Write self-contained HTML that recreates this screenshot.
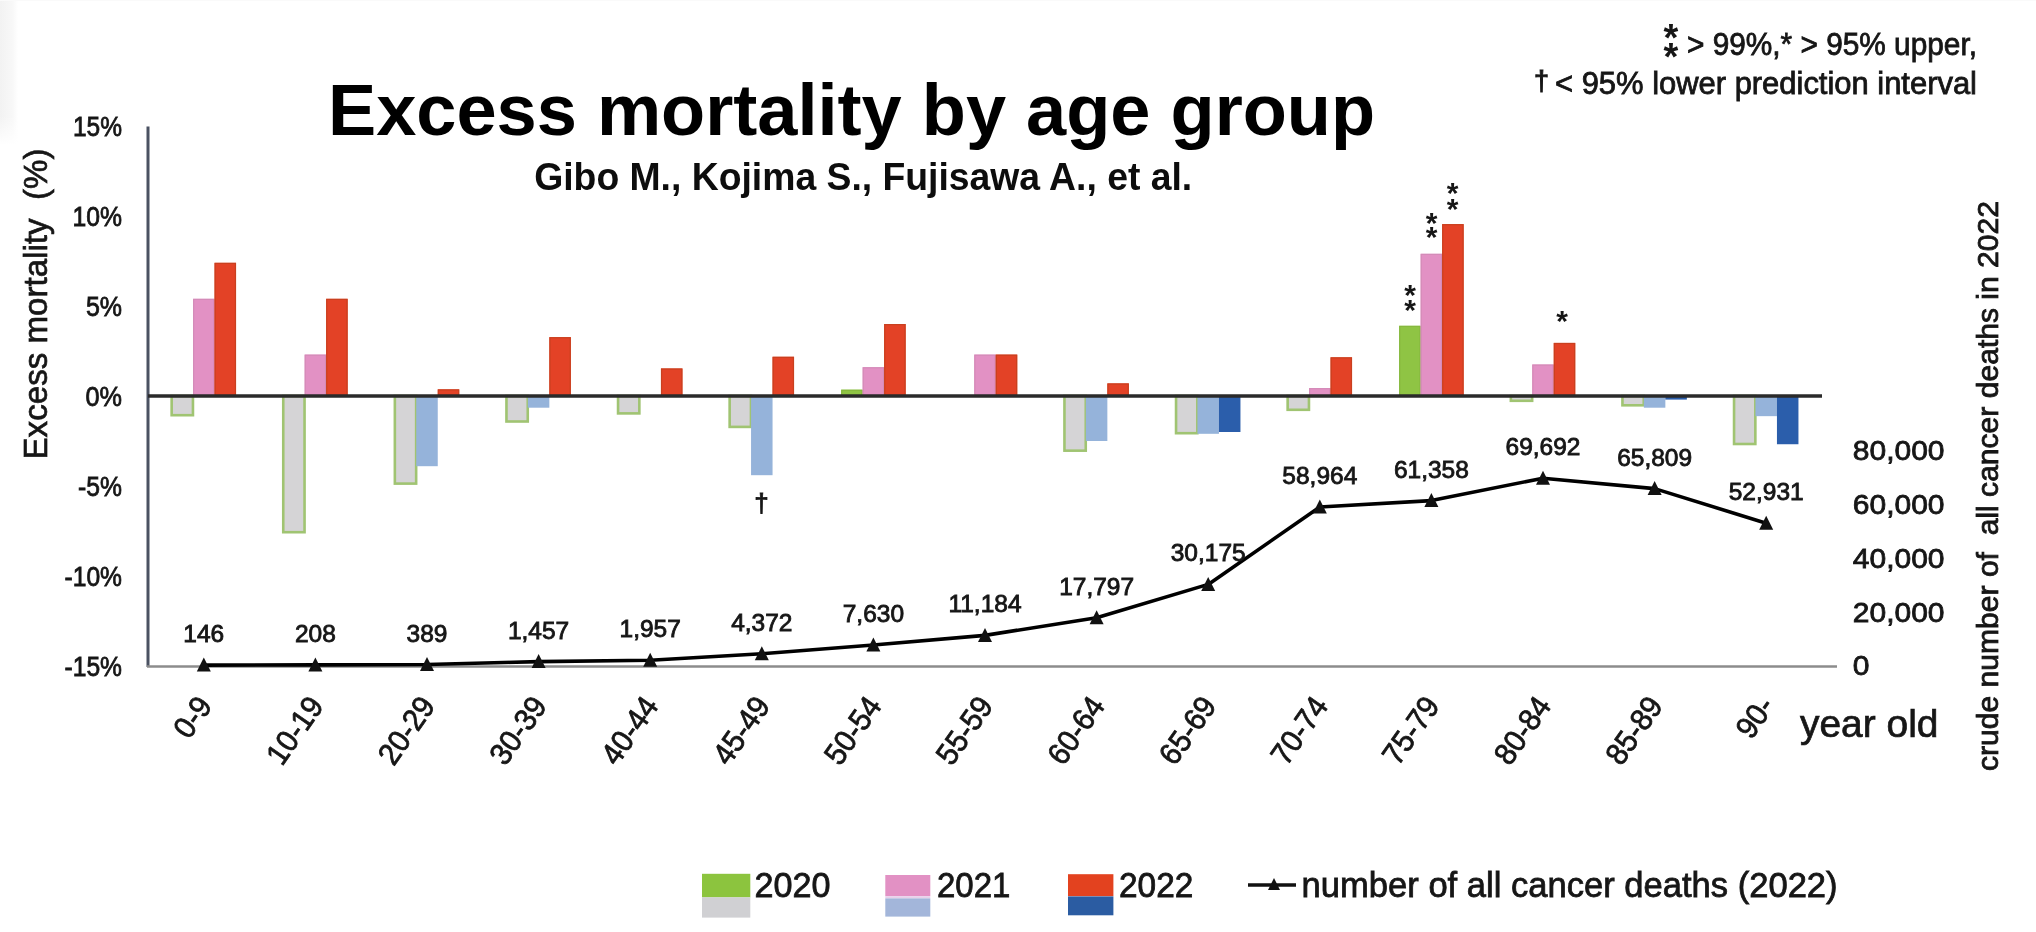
<!DOCTYPE html><html><head><meta charset="utf-8"><title>Excess mortality by age group</title>
<style>html,body{margin:0;padding:0;background:#fff;overflow:hidden}svg{display:block;filter:blur(0.7px)}</style></head><body>
<svg width="2036" height="932" viewBox="0 0 2036 932" font-family="'Liberation Sans', sans-serif" fill="#161616">
<rect width="2036" height="932" fill="#fff"/>
<defs><linearGradient id="lg" x1="0" x2="1" y1="0" y2="0"><stop offset="0" stop-color="#f2f2f2"/><stop offset="0.7" stop-color="#f8f8f8"/><stop offset="1" stop-color="#ffffff"/></linearGradient><linearGradient id="lv" x1="0" x2="0" y1="0" y2="1"><stop offset="0" stop-color="#fff" stop-opacity="0"/><stop offset="0.8" stop-color="#fff" stop-opacity="0"/><stop offset="1" stop-color="#fff" stop-opacity="1"/></linearGradient></defs>
<rect x="0" y="0" width="18" height="145" fill="url(#lg)"/><rect x="0" y="0" width="18" height="145" fill="url(#lv)"/>
<rect x="0" y="0" width="2036" height="1" fill="#fafafa"/>
<text x="328.0" y="134.5" font-size="73" font-weight="bold" textLength="1047.0" lengthAdjust="spacingAndGlyphs" fill="#000">Excess mortality by age group</text>
<text x="534.2" y="190.0" font-size="38.5" font-weight="bold" textLength="658.0" lengthAdjust="spacingAndGlyphs" fill="#0d0d0d">Gibo M., Kojima S., Fujisawa A., et al.</text>
<text x="1671.0" y="51.2" font-size="38" font-weight="bold" text-anchor="middle">*</text>
<text x="1671.0" y="70.4" font-size="38" font-weight="bold" text-anchor="middle">*</text>
<text x="1687.0" y="54.5" font-size="31" textLength="290.0" lengthAdjust="spacingAndGlyphs" stroke="#161616" stroke-width="0.8">&gt; 99%,* &gt; 95% upper,</text>
<text x="1534.0" y="90.0" font-size="27" stroke="#161616" stroke-width="1.0">†</text>
<text x="1555.0" y="94.2" font-size="31" textLength="422.0" lengthAdjust="spacingAndGlyphs" stroke="#161616" stroke-width="0.8">&lt; 95% lower prediction interval</text>
<line x1="148" y1="126.5" x2="148" y2="667" stroke="#4b5262" stroke-width="3"/>
<line x1="147" y1="666.5" x2="1837" y2="666.5" stroke="#8c8c8c" stroke-width="2.5"/>
<rect x="171.65" y="396.00" width="21.30" height="19.20" fill="#d5d4d6" stroke="#a0c472" stroke-width="2.6"/>
<rect x="193.05" y="298.80" width="21.50" height="97.20" fill="#e291c4"/>
<rect x="193.65" y="299.40" width="20.30" height="96.60" fill="none" stroke="#d48bb8" stroke-width="1.2"/>
<rect x="214.55" y="262.80" width="21.50" height="133.20" fill="#e34226"/>
<rect x="215.15" y="263.40" width="20.30" height="132.60" fill="none" stroke="#c9401f" stroke-width="1.2"/>
<rect x="283.25" y="396.00" width="21.30" height="136.20" fill="#d5d4d6" stroke="#a0c472" stroke-width="2.6"/>
<rect x="304.65" y="354.60" width="21.50" height="41.40" fill="#e291c4"/>
<rect x="305.25" y="355.20" width="20.30" height="40.80" fill="none" stroke="#d48bb8" stroke-width="1.2"/>
<rect x="326.15" y="298.80" width="21.50" height="97.20" fill="#e34226"/>
<rect x="326.75" y="299.40" width="20.30" height="96.60" fill="none" stroke="#c9401f" stroke-width="1.2"/>
<rect x="394.85" y="396.00" width="21.30" height="87.60" fill="#d5d4d6" stroke="#a0c472" stroke-width="2.6"/>
<rect x="416.25" y="396.00" width="21.50" height="70.20" fill="#95b3da"/>
<rect x="437.75" y="389.34" width="21.50" height="6.66" fill="#e34226"/>
<rect x="438.35" y="389.94" width="20.30" height="6.06" fill="none" stroke="#c9401f" stroke-width="1.2"/>
<rect x="506.45" y="396.00" width="21.30" height="25.50" fill="#d5d4d6" stroke="#a0c472" stroke-width="2.6"/>
<rect x="527.85" y="396.00" width="21.50" height="11.70" fill="#95b3da"/>
<rect x="549.35" y="337.14" width="21.50" height="58.86" fill="#e34226"/>
<rect x="549.95" y="337.74" width="20.30" height="58.26" fill="none" stroke="#c9401f" stroke-width="1.2"/>
<rect x="618.05" y="396.00" width="21.30" height="17.40" fill="#d5d4d6" stroke="#a0c472" stroke-width="2.6"/>
<rect x="660.95" y="368.46" width="21.50" height="27.54" fill="#e34226"/>
<rect x="661.55" y="369.06" width="20.30" height="26.94" fill="none" stroke="#c9401f" stroke-width="1.2"/>
<rect x="729.65" y="396.00" width="21.30" height="30.90" fill="#d5d4d6" stroke="#a0c472" stroke-width="2.6"/>
<rect x="751.05" y="396.00" width="21.50" height="79.20" fill="#95b3da"/>
<rect x="772.55" y="356.76" width="21.50" height="39.24" fill="#e34226"/>
<rect x="773.15" y="357.36" width="20.30" height="38.64" fill="none" stroke="#c9401f" stroke-width="1.2"/>
<rect x="841.15" y="389.70" width="21.50" height="6.30" fill="#8fc444"/>
<rect x="841.75" y="390.30" width="20.30" height="5.70" fill="none" stroke="#86b83e" stroke-width="1.2"/>
<rect x="862.65" y="367.20" width="21.50" height="28.80" fill="#e291c4"/>
<rect x="863.25" y="367.80" width="20.30" height="28.20" fill="none" stroke="#d48bb8" stroke-width="1.2"/>
<rect x="884.15" y="324.00" width="21.50" height="72.00" fill="#e34226"/>
<rect x="884.75" y="324.60" width="20.30" height="71.40" fill="none" stroke="#c9401f" stroke-width="1.2"/>
<rect x="974.25" y="354.60" width="21.50" height="41.40" fill="#e291c4"/>
<rect x="974.85" y="355.20" width="20.30" height="40.80" fill="none" stroke="#d48bb8" stroke-width="1.2"/>
<rect x="995.75" y="354.60" width="21.50" height="41.40" fill="#e34226"/>
<rect x="996.35" y="355.20" width="20.30" height="40.80" fill="none" stroke="#c9401f" stroke-width="1.2"/>
<rect x="1064.45" y="396.00" width="21.30" height="54.66" fill="#d5d4d6" stroke="#a0c472" stroke-width="2.6"/>
<rect x="1085.85" y="396.00" width="21.50" height="45.00" fill="#95b3da"/>
<rect x="1107.35" y="383.40" width="21.50" height="12.60" fill="#e34226"/>
<rect x="1107.95" y="384.00" width="20.30" height="12.00" fill="none" stroke="#c9401f" stroke-width="1.2"/>
<rect x="1176.05" y="396.00" width="21.30" height="37.20" fill="#d5d4d6" stroke="#a0c472" stroke-width="2.6"/>
<rect x="1197.45" y="396.00" width="21.50" height="37.80" fill="#95b3da"/>
<rect x="1218.95" y="396.00" width="21.50" height="36.00" fill="#2b5eab"/>
<rect x="1287.65" y="396.00" width="21.30" height="13.80" fill="#d5d4d6" stroke="#a0c472" stroke-width="2.6"/>
<rect x="1309.05" y="388.08" width="21.50" height="7.92" fill="#e291c4"/>
<rect x="1309.65" y="388.68" width="20.30" height="7.32" fill="none" stroke="#d48bb8" stroke-width="1.2"/>
<rect x="1330.55" y="357.30" width="21.50" height="38.70" fill="#e34226"/>
<rect x="1331.15" y="357.90" width="20.30" height="38.10" fill="none" stroke="#c9401f" stroke-width="1.2"/>
<rect x="1399.15" y="325.80" width="21.50" height="70.20" fill="#8fc444"/>
<rect x="1399.75" y="326.40" width="20.30" height="69.60" fill="none" stroke="#86b83e" stroke-width="1.2"/>
<rect x="1420.65" y="253.80" width="21.50" height="142.20" fill="#e291c4"/>
<rect x="1421.25" y="254.40" width="20.30" height="141.60" fill="none" stroke="#d48bb8" stroke-width="1.2"/>
<rect x="1442.15" y="224.10" width="21.50" height="171.90" fill="#e34226"/>
<rect x="1442.75" y="224.70" width="20.30" height="171.30" fill="none" stroke="#c9401f" stroke-width="1.2"/>
<rect x="1510.85" y="396.00" width="21.30" height="4.80" fill="#d5d4d6" stroke="#a0c472" stroke-width="2.6"/>
<rect x="1532.25" y="364.50" width="21.50" height="31.50" fill="#e291c4"/>
<rect x="1532.85" y="365.10" width="20.30" height="30.90" fill="none" stroke="#d48bb8" stroke-width="1.2"/>
<rect x="1553.75" y="342.90" width="21.50" height="53.10" fill="#e34226"/>
<rect x="1554.35" y="343.50" width="20.30" height="52.50" fill="none" stroke="#c9401f" stroke-width="1.2"/>
<rect x="1622.45" y="396.00" width="21.30" height="9.30" fill="#d5d4d6" stroke="#a0c472" stroke-width="2.6"/>
<rect x="1643.85" y="396.00" width="21.50" height="11.70" fill="#95b3da"/>
<rect x="1665.35" y="396.00" width="21.50" height="3.60" fill="#2b5eab"/>
<rect x="1734.05" y="396.00" width="21.30" height="48.00" fill="#d5d4d6" stroke="#a0c472" stroke-width="2.6"/>
<rect x="1755.45" y="396.00" width="21.50" height="20.16" fill="#95b3da"/>
<rect x="1776.95" y="396.00" width="21.50" height="48.24" fill="#2b5eab"/>
<line x1="148" y1="396.0" x2="1822" y2="396.0" stroke="#2a2a2a" stroke-width="3.5"/>
<text x="122.0" y="135.8" font-size="27.5" text-anchor="end" textLength="49.0" lengthAdjust="spacingAndGlyphs" stroke="#161616" stroke-width="0.8">15%</text>
<text x="122.0" y="225.8" font-size="27.5" text-anchor="end" textLength="49.5" lengthAdjust="spacingAndGlyphs" stroke="#161616" stroke-width="0.8">10%</text>
<text x="122.0" y="315.8" font-size="27.5" text-anchor="end" textLength="36.1" lengthAdjust="spacingAndGlyphs" stroke="#161616" stroke-width="0.8">5%</text>
<text x="122.0" y="405.8" font-size="27.5" text-anchor="end" textLength="36.5" lengthAdjust="spacingAndGlyphs" stroke="#161616" stroke-width="0.8">0%</text>
<text x="122.0" y="495.8" font-size="27.5" text-anchor="end" textLength="43.9" lengthAdjust="spacingAndGlyphs" stroke="#161616" stroke-width="0.8">-5%</text>
<text x="122.0" y="585.8" font-size="27.5" text-anchor="end" textLength="57.5" lengthAdjust="spacingAndGlyphs" stroke="#161616" stroke-width="0.8">-10%</text>
<text x="122.0" y="675.8" font-size="27.5" text-anchor="end" textLength="57.5" lengthAdjust="spacingAndGlyphs" stroke="#161616" stroke-width="0.8">-15%</text>
<text x="1852.8" y="675.2" font-size="27.5" textLength="16.7" lengthAdjust="spacingAndGlyphs" stroke="#161616" stroke-width="0.8">0</text>
<text x="1852.8" y="621.5" font-size="27.5" textLength="91.7" lengthAdjust="spacingAndGlyphs" stroke="#161616" stroke-width="0.8">20,000</text>
<text x="1852.8" y="567.8" font-size="27.5" textLength="91.7" lengthAdjust="spacingAndGlyphs" stroke="#161616" stroke-width="0.8">40,000</text>
<text x="1852.8" y="514.0" font-size="27.5" textLength="91.7" lengthAdjust="spacingAndGlyphs" stroke="#161616" stroke-width="0.8">60,000</text>
<text x="1852.8" y="460.2" font-size="27.5" textLength="91.7" lengthAdjust="spacingAndGlyphs" stroke="#161616" stroke-width="0.8">80,000</text>
<polyline points="203.8,665.1 315.4,664.9 427.0,664.5 538.6,661.6 650.2,660.2 761.8,653.8 873.4,645.0 985.0,635.4 1096.6,617.7 1208.2,584.4 1319.8,507.0 1431.4,500.6 1543.0,478.2 1654.6,488.6 1766.2,523.2" fill="none" stroke="#000" stroke-width="3.6" stroke-linejoin="round"/>
<path d="M203.8 657.6L210.8 671.6L196.8 671.6Z" fill="#111"/>
<path d="M315.4 657.4L322.4 671.4L308.4 671.4Z" fill="#111"/>
<path d="M427.0 657.0L434.0 671.0L420.0 671.0Z" fill="#111"/>
<path d="M538.6 654.1L545.6 668.1L531.6 668.1Z" fill="#111"/>
<path d="M650.2 652.7L657.2 666.7L643.2 666.7Z" fill="#111"/>
<path d="M761.8 646.3L768.8 660.3L754.8 660.3Z" fill="#111"/>
<path d="M873.4 637.5L880.4 651.5L866.4 651.5Z" fill="#111"/>
<path d="M985.0 627.9L992.0 641.9L978.0 641.9Z" fill="#111"/>
<path d="M1096.6 610.2L1103.6 624.2L1089.6 624.2Z" fill="#111"/>
<path d="M1208.2 576.9L1215.2 590.9L1201.2 590.9Z" fill="#111"/>
<path d="M1319.8 499.5L1326.8 513.5L1312.8 513.5Z" fill="#111"/>
<path d="M1431.4 493.1L1438.4 507.1L1424.4 507.1Z" fill="#111"/>
<path d="M1543.0 470.7L1550.0 484.7L1536.0 484.7Z" fill="#111"/>
<path d="M1654.6 481.1L1661.6 495.1L1647.6 495.1Z" fill="#111"/>
<path d="M1766.2 515.7L1773.2 529.7L1759.2 529.7Z" fill="#111"/>
<text x="203.8" y="642.1" font-size="24.5" text-anchor="middle" stroke="#161616" stroke-width="0.85">146</text>
<text x="315.4" y="641.9" font-size="24.5" text-anchor="middle" stroke="#161616" stroke-width="0.85">208</text>
<text x="427.0" y="641.5" font-size="24.5" text-anchor="middle" stroke="#161616" stroke-width="0.85">389</text>
<text x="538.6" y="638.6" font-size="24.5" text-anchor="middle" stroke="#161616" stroke-width="0.85">1,457</text>
<text x="650.2" y="637.2" font-size="24.5" text-anchor="middle" stroke="#161616" stroke-width="0.85">1,957</text>
<text x="761.8" y="630.8" font-size="24.5" text-anchor="middle" stroke="#161616" stroke-width="0.85">4,372</text>
<text x="873.4" y="622.0" font-size="24.5" text-anchor="middle" stroke="#161616" stroke-width="0.85">7,630</text>
<text x="985.0" y="612.4" font-size="24.5" text-anchor="middle" stroke="#161616" stroke-width="0.85">11,184</text>
<text x="1096.6" y="594.7" font-size="24.5" text-anchor="middle" stroke="#161616" stroke-width="0.85">17,797</text>
<text x="1208.2" y="561.4" font-size="24.5" text-anchor="middle" stroke="#161616" stroke-width="0.85">30,175</text>
<text x="1319.8" y="484.0" font-size="24.5" text-anchor="middle" stroke="#161616" stroke-width="0.85">58,964</text>
<text x="1431.4" y="477.6" font-size="24.5" text-anchor="middle" stroke="#161616" stroke-width="0.85">61,358</text>
<text x="1543.0" y="455.2" font-size="24.5" text-anchor="middle" stroke="#161616" stroke-width="0.85">69,692</text>
<text x="1654.6" y="465.6" font-size="24.5" text-anchor="middle" stroke="#161616" stroke-width="0.85">65,809</text>
<text x="1766.2" y="500.2" font-size="24.5" text-anchor="middle" stroke="#161616" stroke-width="0.85">52,931</text>
<text transform="translate(213.2,706.0) rotate(-55)" font-size="31" text-anchor="end" textLength="42.1" lengthAdjust="spacingAndGlyphs" stroke="#161616" stroke-width="0.8">0-9</text>
<text transform="translate(324.8,706.0) rotate(-55)" font-size="31" text-anchor="end" textLength="74.5" lengthAdjust="spacingAndGlyphs" stroke="#161616" stroke-width="0.8">10-19</text>
<text transform="translate(436.4,706.0) rotate(-55)" font-size="31" text-anchor="end" textLength="74.5" lengthAdjust="spacingAndGlyphs" stroke="#161616" stroke-width="0.8">20-29</text>
<text transform="translate(548.0,706.0) rotate(-55)" font-size="31" text-anchor="end" textLength="74.5" lengthAdjust="spacingAndGlyphs" stroke="#161616" stroke-width="0.8">30-39</text>
<text transform="translate(659.6,706.0) rotate(-55)" font-size="31" text-anchor="end" textLength="74.5" lengthAdjust="spacingAndGlyphs" stroke="#161616" stroke-width="0.8">40-44</text>
<text transform="translate(771.2,706.0) rotate(-55)" font-size="31" text-anchor="end" textLength="74.5" lengthAdjust="spacingAndGlyphs" stroke="#161616" stroke-width="0.8">45-49</text>
<text transform="translate(882.8,706.0) rotate(-55)" font-size="31" text-anchor="end" textLength="74.5" lengthAdjust="spacingAndGlyphs" stroke="#161616" stroke-width="0.8">50-54</text>
<text transform="translate(994.4,706.0) rotate(-55)" font-size="31" text-anchor="end" textLength="74.5" lengthAdjust="spacingAndGlyphs" stroke="#161616" stroke-width="0.8">55-59</text>
<text transform="translate(1106.0,706.0) rotate(-55)" font-size="31" text-anchor="end" textLength="74.5" lengthAdjust="spacingAndGlyphs" stroke="#161616" stroke-width="0.8">60-64</text>
<text transform="translate(1217.6,706.0) rotate(-55)" font-size="31" text-anchor="end" textLength="74.5" lengthAdjust="spacingAndGlyphs" stroke="#161616" stroke-width="0.8">65-69</text>
<text transform="translate(1329.2,706.0) rotate(-55)" font-size="31" text-anchor="end" textLength="74.5" lengthAdjust="spacingAndGlyphs" stroke="#161616" stroke-width="0.8">70-74</text>
<text transform="translate(1440.8,706.0) rotate(-55)" font-size="31" text-anchor="end" textLength="74.5" lengthAdjust="spacingAndGlyphs" stroke="#161616" stroke-width="0.8">75-79</text>
<text transform="translate(1552.4,706.0) rotate(-55)" font-size="31" text-anchor="end" textLength="74.5" lengthAdjust="spacingAndGlyphs" stroke="#161616" stroke-width="0.8">80-84</text>
<text transform="translate(1664.0,706.0) rotate(-55)" font-size="31" text-anchor="end" textLength="74.5" lengthAdjust="spacingAndGlyphs" stroke="#161616" stroke-width="0.8">85-89</text>
<text transform="translate(1775.6,706.0) rotate(-55)" font-size="31" text-anchor="end" textLength="42.1" lengthAdjust="spacingAndGlyphs" stroke="#161616" stroke-width="0.8">90-</text>
<text x="1800.0" y="737.0" font-size="38" textLength="138.5" lengthAdjust="spacingAndGlyphs" stroke="#161616" stroke-width="0.7">year old</text>
<text transform="translate(46.5,459.5) rotate(-90)" font-size="34" textLength="311.0" lengthAdjust="spacingAndGlyphs" stroke="#161616" stroke-width="0.7" xml:space="preserve">Excess mortality  (%)</text>
<text transform="translate(1998.0,771.0) rotate(-90)" font-size="29" textLength="570.0" lengthAdjust="spacingAndGlyphs" stroke="#161616" stroke-width="0.8" xml:space="preserve">crude number of  all cancer deaths in 2022</text>
<text x="1410.0" y="304.7" font-size="30" font-weight="bold" text-anchor="middle">*</text>
<text x="1410.0" y="319.5" font-size="30" font-weight="bold" text-anchor="middle">*</text>
<text x="1431.6" y="233.1" font-size="30" font-weight="bold" text-anchor="middle">*</text>
<text x="1431.6" y="247.1" font-size="30" font-weight="bold" text-anchor="middle">*</text>
<text x="1452.6" y="203.3" font-size="30" font-weight="bold" text-anchor="middle">*</text>
<text x="1452.6" y="218.8" font-size="30" font-weight="bold" text-anchor="middle">*</text>
<text x="1562.0" y="330.8" font-size="30" font-weight="bold" text-anchor="middle">*</text>
<text x="761.6" y="512.0" font-size="26" text-anchor="middle" stroke="#161616" stroke-width="0.8">†</text>
<rect x="702" y="873.8" width="48.3" height="23.6" fill="#8cc43e"/><rect x="702" y="897.3" width="48.3" height="20.3" fill="#d0d0d3"/>
<rect x="885.3" y="875" width="45" height="21.2" fill="#e291c4"/><rect x="885.3" y="896.2" width="45" height="2.2" fill="#e8d0ea"/><rect x="885.3" y="898.4" width="45" height="18.2" fill="#a3b6da"/>
<rect x="1068" y="874.2" width="45.4" height="22" fill="#e3421f"/><rect x="1068" y="896.4" width="45.4" height="18.9" fill="#2b5ca2"/>
<text x="754.6" y="897.3" font-size="35" textLength="76.0" lengthAdjust="spacingAndGlyphs" stroke="#161616" stroke-width="0.8">2020</text>
<text x="937.0" y="897.3" font-size="35" textLength="73.4" lengthAdjust="spacingAndGlyphs" stroke="#161616" stroke-width="0.8">2021</text>
<text x="1119.0" y="897.3" font-size="35" textLength="74.3" lengthAdjust="spacingAndGlyphs" stroke="#161616" stroke-width="0.8">2022</text>
<text x="1301.6" y="897.2" font-size="35" textLength="536.0" lengthAdjust="spacingAndGlyphs" stroke="#161616" stroke-width="0.8">number of all cancer deaths (2022)</text>
<line x1="1248" y1="885" x2="1296" y2="885" stroke="#111" stroke-width="3.5"/>
<path d="M1274 878L1280 890L1268 890Z" fill="#111"/>
</svg></body></html>
